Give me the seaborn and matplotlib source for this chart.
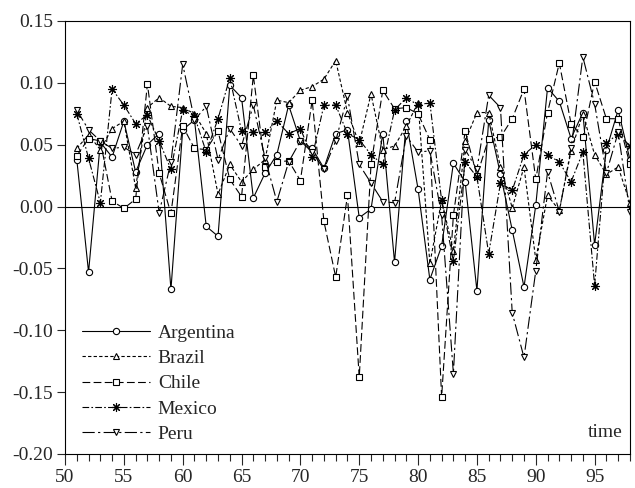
import matplotlib
matplotlib.use('agg')
import numpy as np
import pandas as pd
import seaborn as sns
import matplotlib.pyplot as plt
from matplotlib.ticker import MultipleLocator, FormatStrFormatter

years = list(range(1951, 1999))

argentina = [3.8, -5.3, 5.2, 4.0, 6.9, 2.8, 5.0, 5.9, -6.7, 6.2, 7.0, -1.6, -2.4, 9.8, 8.8, 0.7,
             2.7, 4.2, 8.2, 5.3, 4.7, 3.1, 5.9, 6.2, -0.9, -0.2, 5.9, -4.5, 6.9, 1.4, -5.9, -3.2,
             3.5, 2.0, -6.8, 7.0, 2.6, -1.9, -6.5, 0.1, 9.6, 8.5, 5.5, 7.6, -3.1, 4.6, 7.8, 3.8]
brazil = [4.7, 5.8, 4.6, 6.3, 6.9, 1.5, 8.0, 8.8, 8.1, 8.0, 7.5, 5.9, 1.0, 3.4, 2.0, 3.0,
          3.8, 8.6, 8.4, 9.4, 9.7, 10.3, 11.8, 7.6, 5.1, 9.1, 4.6, 4.9, 6.5, 8.4, -4.6, 0.5,
          -3.6, 5.3, 7.6, 7.6, 3.2, -0.1, 3.2, -4.3, 0.9, -0.3, 4.5, 7.5, 4.2, 2.6, 3.2, 0.3]
chile = [4.1, 5.5, 5.3, 0.45, -0.15, 0.6, 9.9, 2.7, -0.55, 6.5, 4.7, 4.6, 6.1, 2.2, 0.8, 10.6,
         3.2, 3.6, 3.7, 2.1, 8.6, -1.2, -5.7, 0.9, -13.8, 3.4, 9.4, 7.9, 8.0, 7.5, 5.4, -15.4,
         -0.7, 6.1, 2.5, 5.5, 5.6, 7.1, 9.5, 2.2, 7.6, 11.6, 6.7, 5.6, 10.1, 7.1, 7.1, 3.4]
mexico = [7.5, 3.9, 0.3, 9.5, 8.2, 6.7, 7.4, 5.3, 3.0, 7.8, 7.3, 4.4, 7.1, 10.4, 6.1, 6.0,
          6.0, 6.9, 5.9, 6.3, 4.0, 8.2, 8.2, 5.9, 5.4, 4.2, 3.4, 7.8, 8.8, 8.2, 8.4, 0.5,
          -4.4, 3.6, 2.4, -3.8, 1.9, 1.3, 4.2, 5.0, 4.2, 3.6, 2.0, 4.4, -6.4, 5.1, 5.9, 4.9]
peru = [7.8, 6.2, 5.3, 4.7, 4.8, 4.2, 6.5, -0.5, 3.6, 11.5, 7.0, 8.1, 3.8, 6.3, 4.9, 8.2,
        3.9, 0.4, 3.6, 5.3, 4.4, 3.0, 5.3, 8.9, 3.4, 1.9, 0.4, 0.3, 5.7, 4.4, 4.5, -0.7,
        -13.5, 4.6, 3.0, 9.0, 8.0, -8.6, -12.2, -5.2, 2.8, -0.4, 4.7, 12.1, 8.3, 2.7, 6.0, -0.4]

countries = ['Argentina', 'Brazil', 'Chile', 'Mexico', 'Peru']
series = [argentina, brazil, chile, mexico, peru]

df = pd.DataFrame({'time': [y - 1900 for y in years]})
for c, s in zip(countries, series):
	df[c] = np.array(s) / 100.0

sns.set_style('ticks')
plt.rcParams['font.family'] = ['Liberation Serif', 'DejaVu Serif']
plt.rcParams['font.size'] = 14

## line style, marker, marker size per country
styles = {
	'Argentina': ('-', 'o', 4.5),
	'Brazil': ((0, (3, 2)), '^', 4.5),
	'Chile': ((0, (7, 3)), 's', 4.5),
	'Mexico': ((0, (6, 2, 1.5, 2)), (8, 2, 0), 6.5),
	'Peru': ((0, (11, 3, 2, 3)), 'v', 4.5),
}

fig = plt.figure(figsize=(6.35, 4.88), dpi=100)
ax = fig.add_axes([0.1024, 0.0697, 0.8896, 0.8873])

ax.axhline(0, color='black', lw=0.8, zorder=1)

for c in countries:
	ls, mk, ms = styles[c]
	sns.lineplot(data=df, x='time', y=c, ax=ax, color='black', linestyle=ls, lw=0.8,
		marker=mk, markersize=ms, markerfacecolor='white', markeredgecolor='black',
		markeredgewidth=0.8, label=c)

ax.set_xlim(50, 98)
ax.set_ylim(-0.20, 0.15)
ax.xaxis.set_major_locator(MultipleLocator(5))
ax.xaxis.set_minor_locator(MultipleLocator(1))
ax.yaxis.set_major_locator(MultipleLocator(0.05))
ax.yaxis.set_major_formatter(FormatStrFormatter('%.2f'))
ax.tick_params(axis='x', which='major', direction='out', length=8, width=0.8, labelsize=14, pad=3)
ax.tick_params(axis='x', which='minor', direction='out', length=5, width=0.8)
ax.tick_params(axis='y', direction='out', length=5.5, width=0.8, labelsize=14, pad=3)
for sp in ax.spines.values():
	sp.set_linewidth(0.8)
	sp.set_color('black')
ax.set_xlabel('')
ax.set_ylabel('')

ax.text(0.987, 0.03, 'time', transform=ax.transAxes, ha='right', va='bottom', fontsize=14)

leg = ax.legend(loc='lower left', bbox_to_anchor=(0.03, 0.025), frameon=False,
	borderpad=0, borderaxespad=0, handlelength=3.5, labelspacing=0.4,
	handletextpad=0.4, fontsize=14)

plt.savefig('out.png', dpi=100)
